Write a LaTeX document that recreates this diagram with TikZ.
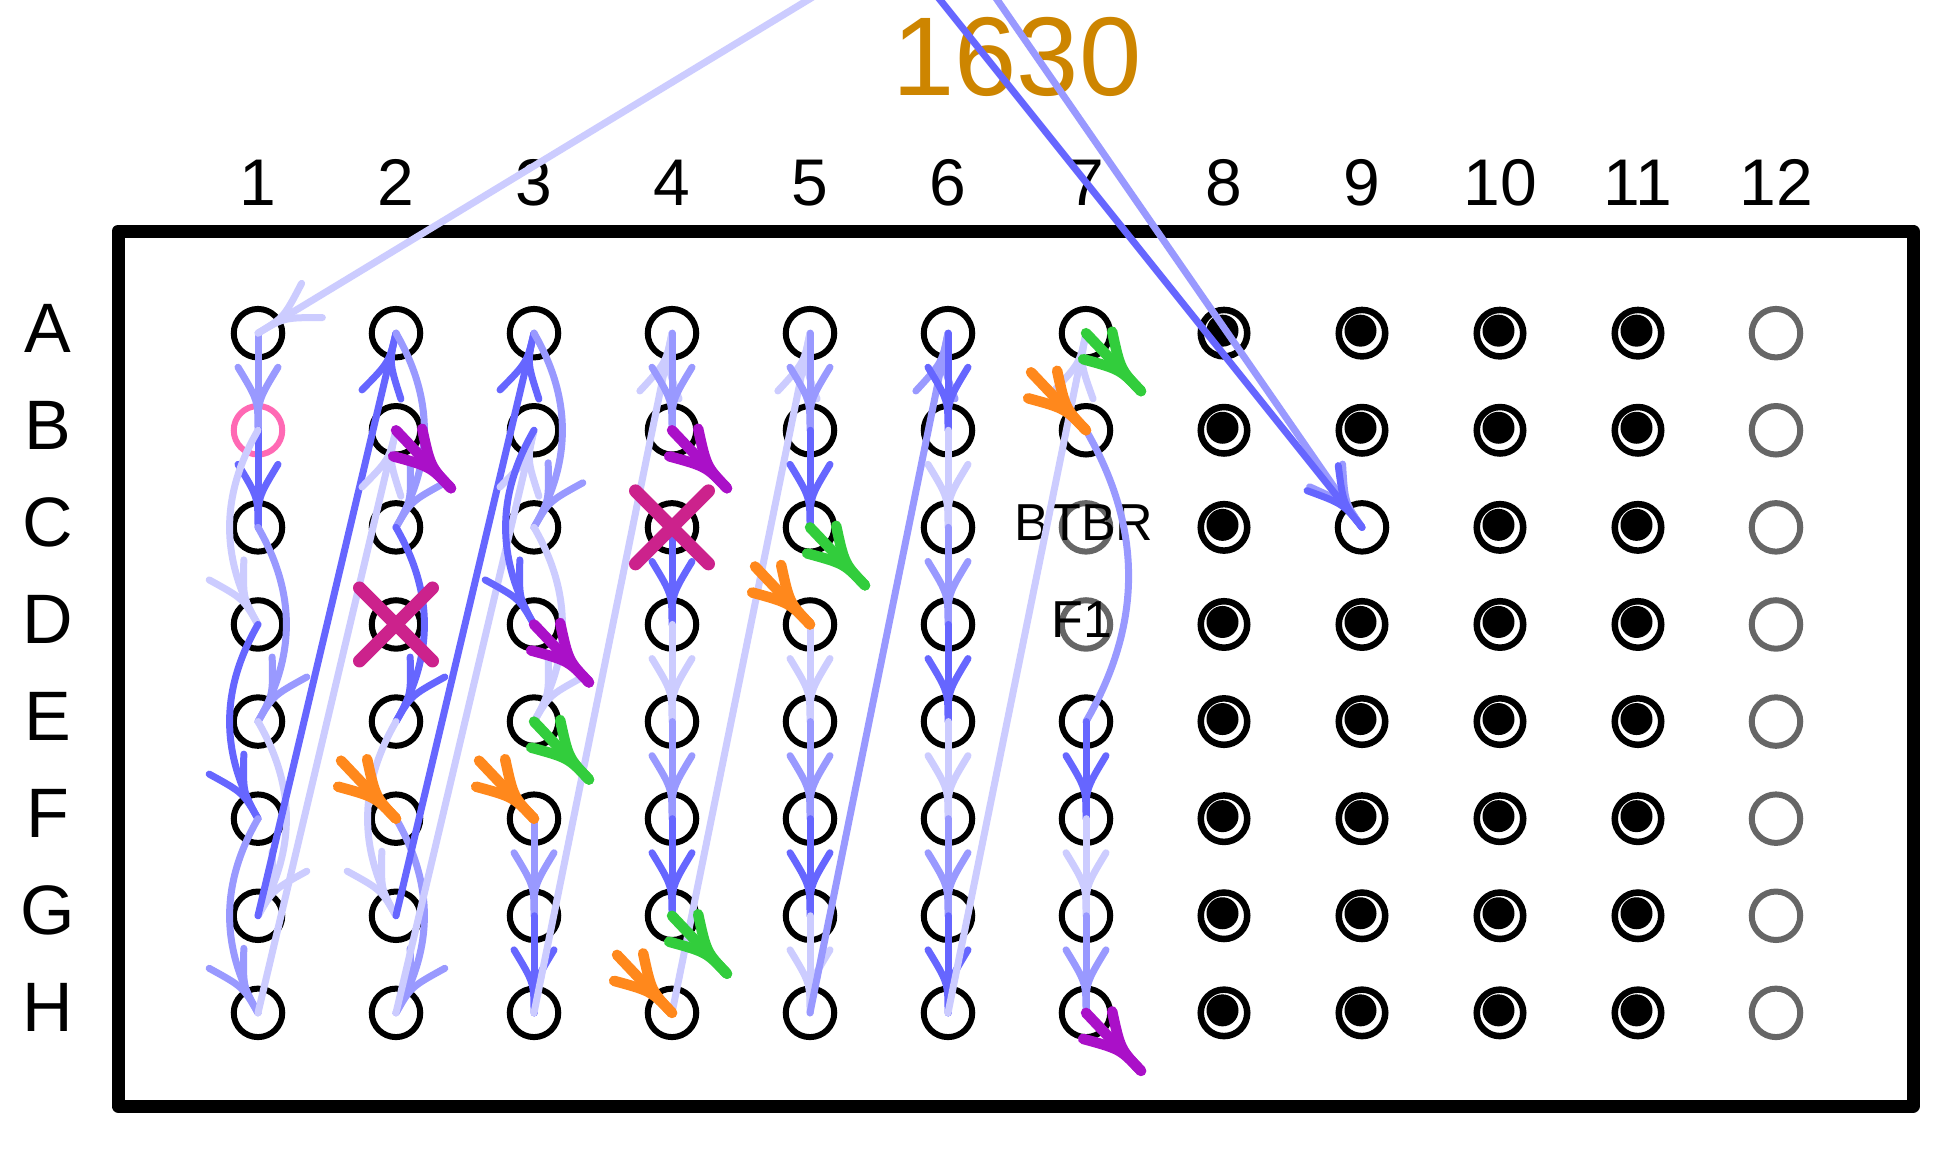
\documentclass[tikz,border=0pt]{standalone}
\usepackage{fontspec}
\setmainfont{Liberation Sans}
\usepackage{xcolor}
\usetikzlibrary{matrix,
	calc,
	decorations.markings,
	shapes.misc}
\definecolor{dkblue}{RGB}{102,102,255}
\definecolor{mdblue}{RGB}{153,153,255}
\definecolor{ltblue}{RGB}{204,204,255}
\definecolor{wellgray}{RGB}{102,102,102}
\definecolor{wellpink}{RGB}{255,105,180}
\definecolor{xred}{RGB}{204,34,140}
\definecolor{outgreen}{RGB}{50,205,60}
\definecolor{outpurple}{RGB}{170,16,200}
\definecolor{inorange}{RGB}{255,136,28}
\definecolor{ttlorange}{RGB}{205,133,0}
\tikzstyle{plt}=[matrix of nodes, nodes in empty cells, ampersand replacement=\&,
		column sep={138pt,between origins}, row sep={97.1pt,between origins},
		nodes={circle, inner sep=0pt, minimum size=48.5pt}]
\tikzstyle{ow}=[draw, line width=6pt]
\tikzstyle{gw}=[draw=wellgray, line width=6pt]
\tikzstyle{pw}=[draw=wellpink, line width=6pt]
\tikzstyle{fw}=[draw, line width=6.5pt, minimum size=46.5pt,
		path picture={\fill ($(path picture bounding box.center)+(-1.5,2.5)$) circle (16pt);}]
\tikzstyle{ytip}=[postaction={decorate, decoration={markings, mark=at position 1 with
		{\draw (-63,20) .. controls (-30,0) .. (0,0) .. controls (-30,0) .. (-63,-20);}}}]
\tikzstyle{dkarr}=[color=dkblue, line width=7pt, line cap=round, line join=round, ytip]
\tikzstyle{mdarr}=[color=mdblue, line width=7pt, line cap=round, line join=round, ytip]
\tikzstyle{ltarr}=[color=ltblue, line width=7pt, line cap=round, line join=round, ytip]
\tikzstyle{stub}=[line width=10.5pt, line cap=round, line join=round, ytip]
\tikzstyle{xm}=[draw=xred, cross out, line width=13pt, line cap=round, inner sep=0pt, minimum size=60pt]
\tikzstyle{rlab}=[font=\fontsize{70}{84}\selectfont, inner sep=0pt, anchor=base]
\tikzstyle{clab}=[font=\fontsize{66}{80}\selectfont, inner sep=0pt, anchor=base]
\tikzstyle{wlab}=[font=\fontsize{52}{62}\selectfont, inner sep=0pt, anchor=base]
\tikzstyle{ttl}=[font=\fontsize{112}{134}\selectfont, text=ttlorange, inner sep=0pt, anchor=base]

\begin{document}
\begin{tikzpicture}[x=1pt, y=1pt]
\useasboundingbox (0,0) rectangle (1944,-1168);
\fill[white] (0,0) rectangle (1944,-1168);
\draw[line width=13pt, line join=round] (118,-231) rectangle (1913,-1106);
\matrix (plate) [plt] at (1017,-673) {
	|[ow]| \& |[ow]| \& |[ow]| \& |[ow]| \& |[ow]| \& |[ow]| \& |[ow]| \& |[fw]| \& |[fw]| \& |[fw]| \& |[fw]| \& |[gw]| \\
	|[pw]| \& |[ow]| \& |[ow]| \& |[ow]| \& |[ow]| \& |[ow]| \& |[ow]| \& |[fw]| \& |[fw]| \& |[fw]| \& |[fw]| \& |[gw]| \\
	|[ow]| \& |[ow]| \& |[ow]| \& |[ow]| \& |[ow]| \& |[ow]| \& |[gw]| \& |[fw]| \& |[ow]| \& |[fw]| \& |[fw]| \& |[gw]| \\
	|[ow]| \& |[ow]| \& |[ow]| \& |[ow]| \& |[ow]| \& |[ow]| \& |[gw]| \& |[fw]| \& |[fw]| \& |[fw]| \& |[fw]| \& |[gw]| \\
	|[ow]| \& |[ow]| \& |[ow]| \& |[ow]| \& |[ow]| \& |[ow]| \& |[ow]| \& |[fw]| \& |[fw]| \& |[fw]| \& |[fw]| \& |[gw]| \\
	|[ow]| \& |[ow]| \& |[ow]| \& |[ow]| \& |[ow]| \& |[ow]| \& |[ow]| \& |[fw]| \& |[fw]| \& |[fw]| \& |[fw]| \& |[gw]| \\
	|[ow]| \& |[ow]| \& |[ow]| \& |[ow]| \& |[ow]| \& |[ow]| \& |[ow]| \& |[fw]| \& |[fw]| \& |[fw]| \& |[fw]| \& |[gw]| \\
	|[ow]| \& |[ow]| \& |[ow]| \& |[ow]| \& |[ow]| \& |[ow]| \& |[ow]| \& |[fw]| \& |[fw]| \& |[fw]| \& |[fw]| \& |[gw]| \\
};
% labels
\node[ttl] (title) at (1017,-95) {1630};
\node[clab] (c1) at ($(plate-1-1)+(0,128)$) {1};
\node[clab] (c2) at ($(plate-1-2)+(0,128)$) {2};
\node[clab] (c3) at ($(plate-1-3)+(0,128)$) {3};
\node[clab] (c4) at ($(plate-1-4)+(0,128)$) {4};
\node[clab] (c5) at ($(plate-1-5)+(0,128)$) {5};
\node[clab] (c6) at ($(plate-1-6)+(0,128)$) {6};
\node[clab] (c7) at ($(plate-1-7)+(0,128)$) {7};
\node[clab] (c8) at ($(plate-1-8)+(0,128)$) {8};
\node[clab] (c9) at ($(plate-1-9)+(0,128)$) {9};
\node[clab] (c10) at ($(plate-1-10)+(0,128)$) {10};
\node[clab] (c11) at ($(plate-1-11)+(0,128)$) {11};
\node[clab] (c12) at ($(plate-1-12)+(0,128)$) {12};
\node[rlab] (rA) at ($(plate-1-1)+(-210,-19)$) {A};
\node[rlab] (rB) at ($(plate-2-1)+(-210,-19)$) {B};
\node[rlab] (rC) at ($(plate-3-1)+(-210,-19)$) {C};
\node[rlab] (rD) at ($(plate-4-1)+(-210,-19)$) {D};
\node[rlab] (rE) at ($(plate-5-1)+(-210,-19)$) {E};
\node[rlab] (rF) at ($(plate-6-1)+(-210,-19)$) {F};
\node[rlab] (rG) at ($(plate-7-1)+(-210,-19)$) {G};
\node[rlab] (rH) at ($(plate-8-1)+(-210,-19)$) {H};
\node[wlab] (btbr) at ($(plate-3-7)+(-2,-13)$) {BTBR};
\node[wlab] (fone) at ($(plate-4-7)+(-4,-13)$) {F1};
% column 1
\draw[mdarr] (plate-1-1.center) -- (plate-2-1.center);
\draw[dkarr] (plate-2-1.center) -- (plate-3-1.center);
\draw[ltarr] (plate-2-1.center) to[bend right=30] (plate-4-1.center);
\draw[mdarr] (plate-3-1.center) to[bend left=30] (plate-5-1.center);
\draw[dkarr] (plate-4-1.center) to[bend right=30] (plate-6-1.center);
\draw[ltarr] (plate-5-1.center) to[bend left=30] (plate-7-1.center);
\draw[mdarr] (plate-6-1.center) to[bend right=30] (plate-8-1.center);
\draw[dkarr] (plate-7-1.center) -- (plate-1-2.center);
\draw[ltarr] (plate-8-1.center) -- (plate-2-2.center);
% column 2
\draw[mdarr] (plate-1-2.center) to[bend left=30] (plate-3-2.center);
\draw[dkarr] (plate-3-2.center) to[bend left=30] (plate-5-2.center);
\draw[ltarr] (plate-5-2.center) to[bend right=30] (plate-7-2.center);
\draw[mdarr] (plate-6-2.center) to[bend left=30] (plate-8-2.center);
\draw[dkarr] (plate-7-2.center) -- (plate-1-3.center);
\draw[ltarr] (plate-8-2.center) -- (plate-2-3.center);
% column 3
\draw[mdarr] (plate-1-3.center) to[bend left=30] (plate-3-3.center);
\draw[dkarr] (plate-2-3.center) to[bend right=30] (plate-4-3.center);
\draw[ltarr] (plate-3-3.center) to[bend left=30] (plate-5-3.center);
\draw[mdarr] (plate-6-3.center) -- (plate-7-3.center);
\draw[dkarr] (plate-7-3.center) -- (plate-8-3.center);
\draw[ltarr] (plate-8-3.center) -- (plate-1-4.center);
% column 4
\draw[mdarr] (plate-1-4.center) -- (plate-2-4.center);
\draw[dkarr] (plate-3-4.center) -- (plate-4-4.center);
\draw[ltarr] (plate-4-4.center) -- (plate-5-4.center);
\draw[mdarr] (plate-5-4.center) -- (plate-6-4.center);
\draw[dkarr] (plate-6-4.center) -- (plate-7-4.center);
\draw[ltarr] (plate-8-4.center) -- (plate-1-5.center);
% column 5
\draw[mdarr] (plate-1-5.center) -- (plate-2-5.center);
\draw[dkarr] (plate-2-5.center) -- (plate-3-5.center);
\draw[ltarr] (plate-4-5.center) -- (plate-5-5.center);
\draw[mdarr] (plate-5-5.center) -- (plate-6-5.center);
\draw[dkarr] (plate-6-5.center) -- (plate-7-5.center);
\draw[ltarr] (plate-7-5.center) -- (plate-8-5.center);
\draw[mdarr] (plate-8-5.center) -- (plate-1-6.center);
% column 6
\draw[dkarr] (plate-1-6.center) -- (plate-2-6.center);
\draw[ltarr] (plate-2-6.center) -- (plate-3-6.center);
\draw[mdarr] (plate-3-6.center) -- (plate-4-6.center);
\draw[dkarr] (plate-4-6.center) -- (plate-5-6.center);
\draw[ltarr] (plate-5-6.center) -- (plate-6-6.center);
\draw[mdarr] (plate-6-6.center) -- (plate-7-6.center);
\draw[dkarr] (plate-7-6.center) -- (plate-8-6.center);
\draw[ltarr] (plate-8-6.center) -- (plate-1-7.center);
% column 7
\draw[mdarr] (plate-2-7.center) to[bend left=30] (plate-5-7.center);
\draw[dkarr] (plate-5-7.center) -- (plate-6-7.center);
\draw[ltarr] (plate-6-7.center) -- (plate-7-7.center);
\draw[mdarr] (plate-7-7.center) -- (plate-8-7.center);
% from the plate above
\coordinate (srcA) at (897,54);
\coordinate (srcB) at (942,80);
\draw[ltarr] (srcA) -- (plate-1-1.center);
\draw[mdarr] (srcB) -- (plate-3-9.center);
\draw[dkarr] (srcA) -- (plate-3-9.center);
% in and out
\coordinate (iB7) at ($(plate-2-7)+(-55,58)$);
\coordinate (iD5) at ($(plate-4-5)+(-55,58)$);
\coordinate (iF2) at ($(plate-6-2)+(-55,58)$);
\coordinate (iF3) at ($(plate-6-3)+(-55,58)$);
\coordinate (iH4) at ($(plate-8-4)+(-55,58)$);
\coordinate (oA7) at ($(plate-1-7)+(55,-58)$);
\coordinate (oC5) at ($(plate-3-5)+(55,-58)$);
\coordinate (oE3) at ($(plate-5-3)+(55,-58)$);
\coordinate (oG4) at ($(plate-7-4)+(55,-58)$);
\coordinate (oB2) at ($(plate-2-2)+(55,-58)$);
\coordinate (oB4) at ($(plate-2-4)+(55,-58)$);
\coordinate (oD3) at ($(plate-4-3)+(55,-58)$);
\coordinate (oH7) at ($(plate-8-7)+(55,-58)$);
\draw[stub, color=inorange] (iB7) -- (plate-2-7.center);
\draw[stub, color=inorange] (iD5) -- (plate-4-5.center);
\draw[stub, color=inorange] (iF2) -- (plate-6-2.center);
\draw[stub, color=inorange] (iF3) -- (plate-6-3.center);
\draw[stub, color=inorange] (iH4) -- (plate-8-4.center);
\draw[stub, color=outgreen] (plate-1-7.center) -- (oA7);
\draw[stub, color=outgreen] (plate-3-5.center) -- (oC5);
\draw[stub, color=outgreen] (plate-5-3.center) -- (oE3);
\draw[stub, color=outgreen] (plate-7-4.center) -- (oG4);
\draw[stub, color=outpurple] (plate-2-2.center) -- (oB2);
\draw[stub, color=outpurple] (plate-2-4.center) -- (oB4);
\draw[stub, color=outpurple] (plate-4-3.center) -- (oD3);
\draw[stub, color=outpurple] (plate-8-7.center) -- (oH7);
% dropped wells
\node[xm] (xD2) at (plate-4-2) {};
\node[xm] (xC4) at (plate-3-4) {};
\end{tikzpicture}
\end{document}
